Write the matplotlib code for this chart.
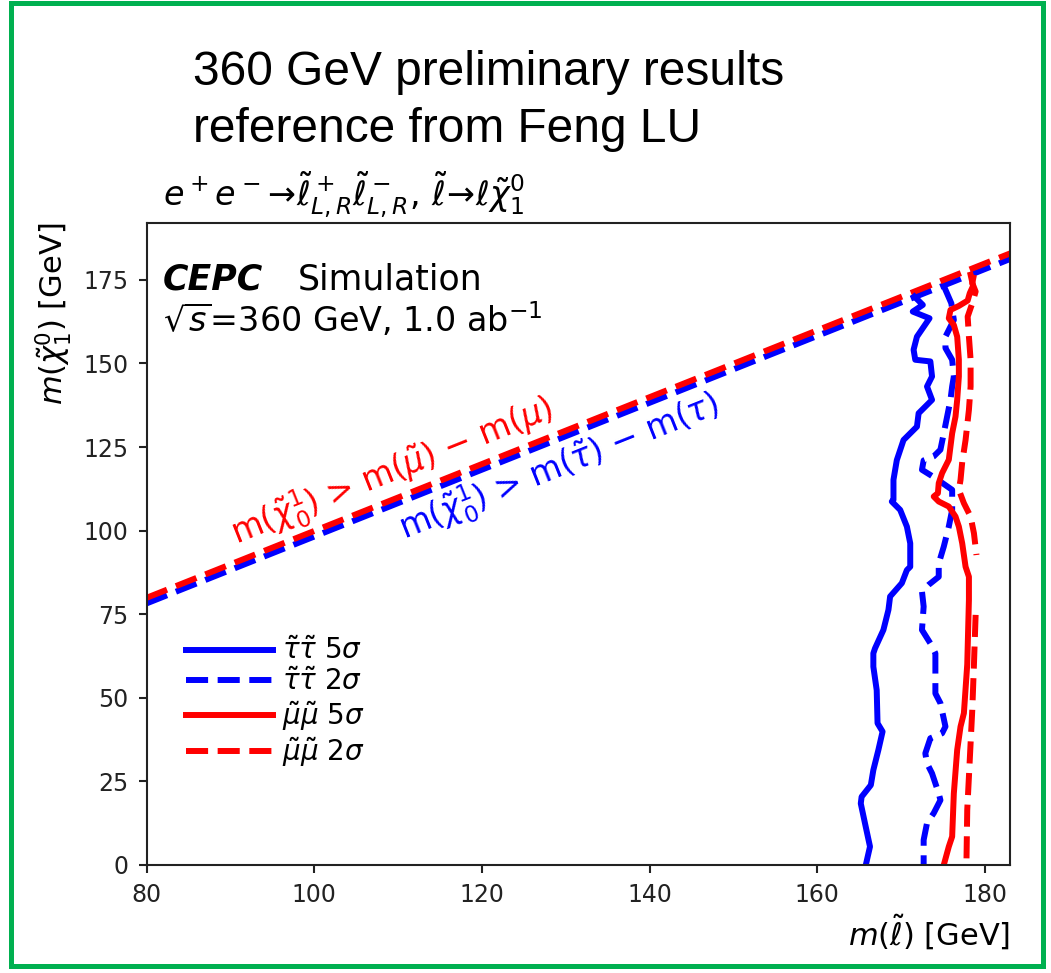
import numpy as np
import matplotlib
matplotlib.use('Agg')
import matplotlib.pyplot as plt
from matplotlib.patches import Rectangle

# stau pair, 5 sigma contour
tau5_x = [171.6, 172.6, 171.4, 173.4, 171.9, 171.5, 171.7, 173.5, 173.7, 173.1, 173.7, 172.1, 171.9, 170.3,
          169.5, 169.1, 169.1, 168.9, 169.9, 170.7, 171.1, 171.1, 170.7, 170.1, 168.7, 168.5, 167.9, 166.9,
          166.7, 166.7, 167.1, 167.2, 167.8, 167.3, 166.7, 166.4, 165.3, 165.2, 165.7, 166.3, 165.8]
tau5_y = [170.0, 167.5, 165.5, 163.5, 158.0, 154.1, 151.1, 150.6, 146.1, 143.1, 139.1, 135.1, 131.1, 127.1,
          121.1, 115.2, 109.2, 108.7, 106.2, 101.2, 96.2, 89.2, 88.2, 84.3, 80.3, 76.3, 70.3, 64.8,
          63.3, 59.3, 52.3, 42.4, 39.9, 34.4, 28.4, 23.9, 20.4, 18.4, 12.5, 5.5, 0.0]

# stau pair, 2 sigma contour
tau2_x = [175.1, 176.0, 176.3, 175.3, 175.3, 176.1, 176.3, 176.1, 175.9, 175.5, 175.1, 174.7, 173.9, 172.7,
          172.5, 174.1, 176.1, 176.1, 175.7, 175.1, 174.5, 174.5, 173.3, 172.5, 172.7, 172.5, 173.5, 174.1,
          174.1, 174.1, 174.7, 175.3, 174.9, 173.5, 172.9, 173.1, 173.7, 174.5, 174.7, 173.9, 173.1, 172.7, 172.7]
tau2_y = [173.2, 168.0, 163.0, 158.0, 154.6, 151.1, 146.1, 143.1, 139.1, 134.1, 129.1, 124.2, 122.2, 121.0,
          118.2, 115.7, 112.2, 106.2, 101.2, 95.2, 90.2, 86.2, 83.8, 81.8, 77.3, 70.3, 66.3, 63.3,
          58.3, 51.3, 48.4, 41.4, 39.4, 37.9, 33.4, 30.4, 27.4, 21.4, 19.4, 15.5, 12.5, 7.5, 0.0]

# smuon pair, 5 sigma contour
mu5_x = [178.3, 178.6, 178.2, 177.95, 176.9, 175.9, 175.7, 176.3, 176.7, 176.9, 176.9, 176.7, 176.5, 176.1,
         175.7, 174.9, 174.5, 174.4, 173.9, 174.5, 175.7, 176.5, 176.9, 177.3, 177.7, 178.1, 178.1, 177.9,
         177.5, 177.1, 176.7, 176.3, 176.1, 175.7, 175.1]
mu5_y = [176.5, 173.2, 171.0, 168.8, 167.2, 166.0, 163.5, 161.5, 158.0, 151.1, 146.1, 139.1, 134.1, 129.1,
         121.2, 117.2, 114.2, 111.2, 110.2, 108.7, 107.2, 104.2, 101.2, 96.2, 89.2, 86.2, 79.3, 60.0,
         45.4, 41.4, 34.4, 21.4, 8.5, 5.5, 0.0]

# smuon pair, 2 sigma contour (nan = break in the line)
mu2_x = [178.7, 178.5, 178.9, 178.5, 177.95, 178.1, 178.3, 178.3, 178.1, 177.7, 177.3, 177.1, 176.9, 177.5,
         178.3, 178.7, 179.0, np.nan, 178.9, 178.7, 178.5, 178.3, 178.1, 177.9, 177.8]
mu2_y = [176.5, 174.0, 171.5, 168.0, 164.0, 158.0, 151.1, 143.1, 136.1, 127.1, 120.5, 115.2, 112.2, 108.2,
         104.2, 99.2, 92.7, np.nan, 74.8, 60.0, 46.4, 36.4, 26.4, 16.5, 0.0]

# kinematic limits
m_mu = 0.1057
m_tau = 1.777
diag_x = np.array([80.0, 183.0])

W, H = 1051, 973
fig = plt.figure(figsize=(W / 100, H / 100), dpi=100)

def fx(px):
    return px / W

def fy(py):
    return 1 - py / H

ax = fig.add_axes([fx(146.5), fy(865), (1010 - 146.5) / W, (865 - 223) / H])

lw = 4.3
ax.plot(diag_x, diag_x - m_tau, color='blue', ls='--', lw=lw)
ax.plot(diag_x, diag_x - m_mu, color='red', ls='--', lw=lw)

ax.plot(tau5_x, tau5_y, color='blue', ls='-', lw=lw, label=r'$\tilde{\tau}\tilde{\tau}$ 5$\sigma$')
ax.plot(tau2_x, tau2_y, color='blue', ls='--', lw=lw, label=r'$\tilde{\tau}\tilde{\tau}$ 2$\sigma$')
ax.plot(mu5_x, mu5_y, color='red', ls='-', lw=lw, label=r'$\tilde{\mu}\tilde{\mu}$ 5$\sigma$')
ax.plot(mu2_x, mu2_y, color='red', ls='--', lw=lw, label=r'$\tilde{\mu}\tilde{\mu}$ 2$\sigma$')

ax.text(90.8, 95.7, r'm($\tilde{\chi}^1_0$) > m($\tilde{\mu}$) $-$ m($\mu$)', color='red', fontsize=23.5,
        rotation=45, transform_rotates_text=True, rotation_mode='anchor', ha='left', va='baseline')
ax.text(110.8, 97.2, r'm($\tilde{\chi}^1_0$) > m($\tilde{\tau}$) $-$ m($\tau$)', color='blue', fontsize=23.5,
        rotation=45, transform_rotates_text=True, rotation_mode='anchor', ha='left', va='baseline')

ax.set_xlim(80, 183)
ax.set_ylim(0, 192)
ax.set_xticks([80, 100, 120, 140, 160, 180])
ax.set_yticks([0, 25, 50, 75, 100, 125, 150, 175])
ax.tick_params(labelsize=17, length=6, width=1.5, pad=7, colors='#222222')
for s in ax.spines.values():
    s.set_linewidth(1.5)
    s.set_color('#222222')

ax.set_xlabel(r'$m(\tilde{\ell})$ [GeV]', fontsize=22, loc='right')
ax.set_ylabel(r'$m(\tilde{\chi}^0_1)$ [GeV]', fontsize=22, loc='top', labelpad=7)

ax.legend(loc='center left', bbox_to_anchor=(0.0457, 0.252), frameon=False, fontsize=20,
          handlelength=3.13, handletextpad=0.32, borderpad=0, borderaxespad=0, labelspacing=0.1)

fig.text(fx(163), fy(205), r'$e^+e^-\!\rightarrow\!\tilde{\ell}^+_{L,R}\tilde{\ell}^-_{L,R},\,\tilde{\ell}\!\rightarrow\!\ell\tilde{\chi}^0_1$',
         fontsize=24, va='baseline')
fig.text(fx(163), fy(290), 'CEPC', fontsize=25, fontweight='bold', fontstyle='italic', va='baseline')
fig.text(fx(298), fy(290), 'Simulation', fontsize=25, va='baseline')
fig.text(fx(163), fy(332), r'$\sqrt{s}$=360 GeV, 1.0 ab$^{-1}$', fontsize=24, va='baseline')

fig.text(fx(193), fy(85), '360 GeV preliminary results', fontsize=34.5, family='Liberation Sans', va='baseline')
fig.text(fx(193), fy(142), 'reference from Feng LU', fontsize=34.5, family='Liberation Sans', va='baseline')

# green frame round the slide
fig.patches.append(Rectangle((fx(10.5), fy(966)), (1043 - 10.5) / W, (966 - 3) / H, transform=fig.transFigure,
                             fill=False, ec='#00B050', lw=3.6))

fig.savefig('out.png', dpi=100)
